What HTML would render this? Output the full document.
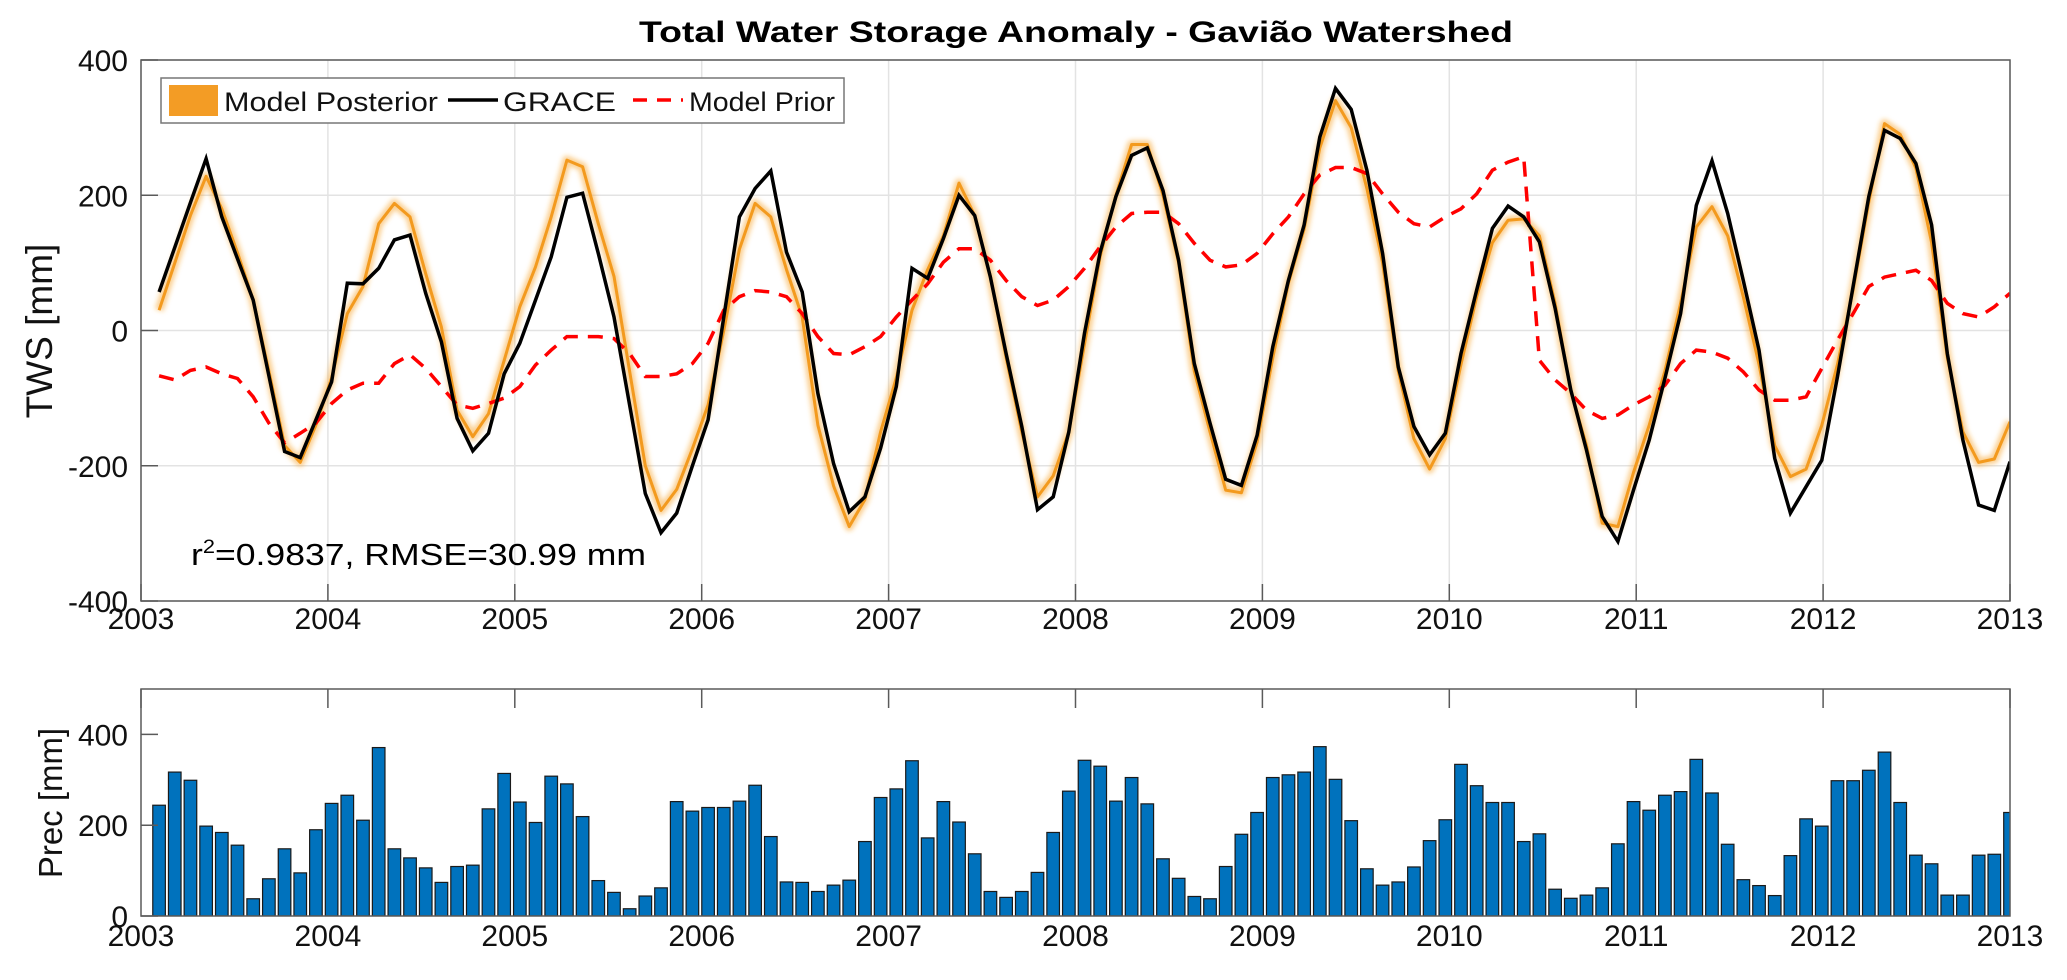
<!DOCTYPE html>
<html><head><meta charset="utf-8"><style>
html,body{margin:0;padding:0;background:#fff;}
svg{display:block;font-family:"Liberation Sans",Arial,sans-serif;}
</style></head><body>
<svg id="fig" width="2067" height="980" viewBox="0 0 2067 980" xmlns="http://www.w3.org/2000/svg">
<defs>
<filter id="blur" x="-5%" y="-5%" width="110%" height="110%"><feGaussianBlur stdDeviation="2.5"/></filter>
<clipPath id="clipTop"><rect x="141" y="60" width="1869" height="541"/></clipPath>
<clipPath id="clipBot"><rect x="141" y="689" width="1869" height="227"/></clipPath>
</defs>
<text x="1076" y="42" text-anchor="middle" font-size="30" font-weight="bold" textLength="874" lengthAdjust="spacingAndGlyphs" fill="#000">Total Water Storage Anomaly - Gavião Watershed</text>
<g id="topPanel"></g>
<g id="botPanel"></g>
</svg>
<script>
const precip=[244,317,299,198,184,156,38,82,148,95,190,248,266,211,371,148,128,106,74,109,112,236,314,251,206,308,291,219,78,52,16,44,62,252,231,239,239,253,288,175,75,74,54,68,79,164,261,280,342,172,252,207,137,54,41,54,96,184,275,343,330,253,305,247,126,83,43,38,109,180,228,305,311,317,373,301,210,104,68,75,108,166,212,334,287,250,250,164,181,59,39,46,62,159,252,233,266,274,345,271,158,80,67,45,133,214,198,298,298,321,361,250,134,115,46,46,134,136,228];
const grace=[57,123,189,254,168,106,45,-67,-179,-188,-132,-76,70,69,92,134,141,55,-17,-130,-178,-152,-64,-19,45,109,197,203,114,20,-110,-241,-299,-270,-200,-132,20,168,210,236,116,57,-93,-197,-268,-246,-174,-83,92,77,136,200,170,79,-34,-142,-265,-246,-150,-4,116,198,259,270,207,104,-49,-137,-220,-229,-155,-24,74,156,286,358,327,237,114,-54,-142,-184,-152,-34,60,151,184,168,131,33,-88,-177,-275,-312,-236,-162,-71,25,185,251,173,74,-29,-189,-270,-231,-192,-68,65,198,296,284,247,156,-34,-162,-258,-266,-194];
const posterior=[30,100,170,228,180,115,45,-60,-170,-195,-140,-70,25,65,158,188,168,84,5,-118,-157,-123,-44,35,94,168,252,242,158,80,-60,-200,-266,-235,-175,-110,0,120,188,168,90,20,-140,-230,-290,-250,-150,-70,30,90,140,218,170,80,-40,-150,-246,-215,-150,-20,110,200,275,275,200,100,-60,-150,-236,-240,-165,-40,70,150,270,340,300,210,100,-60,-160,-205,-160,-50,50,130,163,165,140,40,-90,-170,-285,-290,-210,-140,-60,40,153,183,140,50,-50,-170,-216,-205,-140,-50,60,190,306,290,240,130,-40,-150,-195,-190,-135];
const prior=[-67,-73,-59,-54,-64,-71,-98,-137,-166,-152,-137,-108,-88,-78,-78,-49,-36,-56,-83,-110,-115,-108,-100,-83,-51,-29,-9,-9,-9,-12,-34,-68,-68,-64,-49,-19,30,50,59,57,50,25,-9,-34,-36,-24,-9,20,45,69,101,121,121,104,74,50,37,45,65,92,124,153,173,175,175,158,129,104,94,97,114,143,168,202,230,241,241,232,202,175,158,153,168,180,202,237,249,257,-44,-73,-93,-118,-130,-125,-110,-98,-81,-49,-29,-32,-41,-61,-88,-103,-103,-98,-56,-14,25,65,79,84,89,74,40,25,20,35,55];
const years=[2003,2004,2005,2006,2007,2008,2009,2010,2011,2012,2013];
const twsTicks=[400,200,0,-200,-400];
const precTicks=[0,200,400];

const NS="http://www.w3.org/2000/svg";
const L=141,R=2010;
const xYear=y=>L+(y-2003)*(R-L)/10;
const xIdx=i=>xYear(2003+(1.16+i*(118.84/118))/12);
const yT=v=>330.5-v*(541/800);
const yB=v=>916-v*(227/500);
function mk(tag,attrs,parent){const e=document.createElementNS(NS,tag);for(const k in attrs)e.setAttribute(k,attrs[k]);parent.appendChild(e);return e;}
const topG=document.getElementById('topPanel'),botG=document.getElementById('botPanel');
const AX="#5a5a5a";
const TF=30;

years.forEach(y=>{const g=mk('line',{x1:xYear(y),x2:xYear(y),y1:60,y2:601,stroke:'#e3e3e3','stroke-width':1.5},topG);

});
twsTicks.forEach(v=>{const g=mk('line',{x1:L,x2:R,y1:yT(v),y2:yT(v),stroke:'#e3e3e3','stroke-width':1.5},topG);

});

function pts(arr,yf){return arr.map((v,i)=>xIdx(i).toFixed(1)+','+yf(v).toFixed(1)).join(' ');}
const series=mk('g',{'clip-path':'url(#clipTop)'},topG);


const pb=mk('polyline',{points:pts(posterior,yT),fill:'none',stroke:'#f7a32c','stroke-width':9,'stroke-opacity':0.5,filter:'url(#blur)','stroke-linejoin':'round'},series);


const pl=mk('polyline',{points:pts(posterior,yT),fill:'none',stroke:'#f39a1e','stroke-width':3,'stroke-linejoin':'round'},series);


const pr=mk('polyline',{points:pts(prior,yT),fill:'none',stroke:'#ff0000','stroke-width':3.5,'stroke-dasharray':'15,10'},series);


const gr=mk('polyline',{points:pts(grace,yT),fill:'none',stroke:'#000','stroke-width':3.5,'stroke-linejoin':'miter'},series);



const tb=mk('rect',{x:L,y:60,width:R-L,height:541,fill:'none',stroke:AX,'stroke-width':1.5},topG);


years.forEach(y=>{
 const t=mk('line',{x1:xYear(y),x2:xYear(y),y1:601,y2:584,stroke:AX,'stroke-width':1.5},topG);
 
 
 const lb=mk('text',{x:xYear(y),y:629,'text-anchor':'middle','font-size':TF,fill:'#111'},topG);
 lb.textContent=y;
 
 
});
twsTicks.forEach(v=>{
 const t=mk('line',{x1:L,x2:L+17,y1:yT(v),y2:yT(v),stroke:AX,'stroke-width':1.5},topG);
 
 
 const lb=mk('text',{x:128,y:yT(v)+11,'text-anchor':'end','font-size':TF,fill:'#111'},topG);
 lb.textContent=v;
 
 
});
const yl=mk('text',{x:0,y:0,transform:'translate(52,331) rotate(-90)','text-anchor':'middle','font-size':37,fill:'#111'},topG);
yl.textContent='TWS [mm]';



const lg=mk('g',{},topG);


mk('rect',{x:161,y:78,width:683,height:45,fill:'#fff',stroke:'#777','stroke-width':1.5},lg);
const e1=mk('rect',{x:169,y:85,width:49,height:31,fill:'#f39c25'},lg);


const t1=mk('text',{x:224,y:111,'font-size':27,textLength:214,lengthAdjust:'spacingAndGlyphs',fill:'#111'},lg);t1.textContent='Model Posterior';


mk('line',{x1:448,x2:498,y1:100,y2:100,stroke:'#000','stroke-width':3.5},lg);
const t2=mk('text',{x:503,y:111,'font-size':27,textLength:113,lengthAdjust:'spacingAndGlyphs',fill:'#111'},lg);t2.textContent='GRACE';


mk('line',{x1:633,x2:683,y1:100,y2:100,stroke:'#ff0000','stroke-width':3.5,'stroke-dasharray':'14,10'},lg);
const t3=mk('text',{x:689,y:111,'font-size':27,textLength:146,lengthAdjust:'spacingAndGlyphs',fill:'#111'},lg);t3.textContent='Model Prior';



const an=mk('text',{x:191,y:565,'font-size':31,textLength:455,lengthAdjust:'spacingAndGlyphs',fill:'#000'},topG);
an.innerHTML='r<tspan dy="-12" font-size="19">2</tspan><tspan dy="12">=0.9837, RMSE=30.99 mm</tspan>';



const bars=mk('g',{'clip-path':'url(#clipBot)'},botG);


const bw=12.6;
precip.forEach((v,i)=>{
 const b=mk('rect',{x:xIdx(i)-bw/2,y:yB(v),width:bw,height:yB(0)-yB(v),fill:'#0072bd',stroke:'#1a1a1a','stroke-width':1.2},bars);
 
 
});
const bb=mk('rect',{x:L,y:689,width:R-L,height:227,fill:'none',stroke:AX,'stroke-width':1.5},botG);


years.forEach(y=>{
 const t=mk('line',{x1:xYear(y),x2:xYear(y),y1:689,y2:708,stroke:AX,'stroke-width':1.5},botG);
 
 
 const lb=mk('text',{x:xYear(y),y:946,'text-anchor':'middle','font-size':TF,fill:'#111'},botG);
 lb.textContent=y;
 
 
});
precTicks.forEach(v=>{
 const t=mk('line',{x1:L,x2:L+17,y1:yB(v),y2:yB(v),stroke:AX,'stroke-width':1.5},botG);
 
 
 const lb=mk('text',{x:128,y:yB(v)+11,'text-anchor':'end','font-size':TF,fill:'#111'},botG);
 lb.textContent=v;
 
 
});
const yl2=mk('text',{x:0,y:0,transform:'translate(62,803) rotate(-90)','text-anchor':'middle','font-size':33,fill:'#111'},botG);
yl2.textContent='Prec [mm]';


</script>
</body></html>
